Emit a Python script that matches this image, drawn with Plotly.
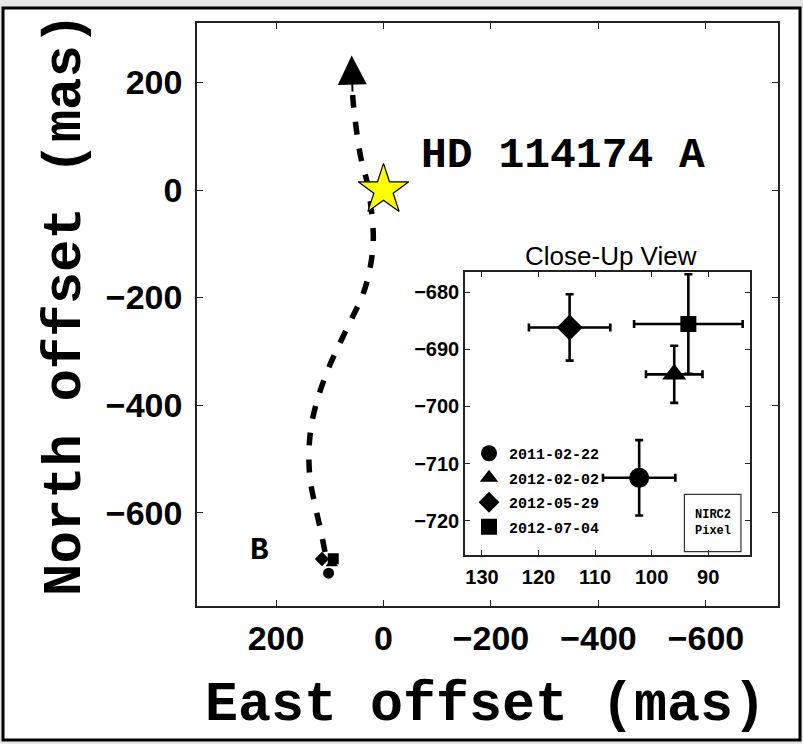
import plotly.graph_objects as go

# ---------------- data ----------------
# orbital track of companion B (East, North offsets in mas)
track_east = [108.8, 116.3, 127.4, 136.7, 138.6, 133.6, 121.3, 103.8, 82.8, 60.5,
              38.7, 25.1, 19.0, 22.0, 30.1, 41.9, 49.9, 56.2, 57.7]
track_north = [-673, -635.7, -586, -536.4, -483.7, -434, -384.6, -334.9, -288.4, -241.9,
               -195.3, -145.7, -93, -43.3, 12.5, 59, 108.5, 161.3, 180.5]
arrow_tip_east, arrow_tip_north = 59.2, 250
arrow_base_east, arrow_base_north = 57.7, 180.5

# primary star
star_east, star_north = [0], [0]

# astrometry epochs
dates = ["2011-02-22", "2012-02-02", "2012-05-29", "2012-07-04"]
east = [102.2, 96.0, 114.5, 93.5]
north = [-712.5, -694.4, -686.2, -685.6]
east_err = [6.4, 5.0, 7.2, 9.6]
north_err = [6.6, 5.0, 5.8, 8.7]
symbols = ["circle", "triangle-up", "diamond", "square"]
inset_sizes = [20, 21, 20, 16]

# NIRC2 pixel scale (mas)
nirc2_pixel = 10.0
pixel_box_east = 94.2
pixel_box_north = -715.4

main_ticks = [200, 0, -200, -400, -600]
inset_xticks = [130, 120, 110, 100, 90]
inset_yticks = [-680, -690, -700, -710, -720]

W, H = 803, 744
MONO = "Liberation Mono"
SANS = "Liberation Sans"

fig = go.Figure()

# dashed track
fig.add_trace(go.Scatter(
    x=track_east, y=track_north, mode="lines",
    line=dict(color="black", width=5.5, dash="13px,14px", shape="spline"),
    showlegend=False, hoverinfo="skip", xaxis="x", yaxis="y"))

# epochs in main panel
for i in range(len(dates)):
    fig.add_trace(go.Scatter(
        x=[east[i]], y=[north[i]], mode="markers",
        marker=dict(symbol=symbols[i], size=11, color="black"),
        showlegend=False, xaxis="x", yaxis="y"))

# star
fig.add_trace(go.Scatter(
    x=star_east, y=star_north, mode="markers",
    marker=dict(symbol="star", size=38, color="#ffff00", line=dict(color="black", width=1.2)),
    showlegend=False, xaxis="x", yaxis="y"))

# inset points with error bars
for i in range(len(dates)):
    fig.add_trace(go.Scatter(
        x=[east[i]], y=[north[i]], mode="markers",
        marker=dict(symbol=symbols[i], size=inset_sizes[i], color="black"),
        error_x=dict(type="data", array=[east_err[i]], color="black", thickness=2.6, width=4),
        error_y=dict(type="data", array=[north_err[i]], color="black", thickness=2.6, width=4),
        showlegend=False, xaxis="x2", yaxis="y2"))

# legend entries
for i in range(len(dates)):
    fig.add_trace(go.Scatter(
        x=[None], y=[None], mode="markers", name=dates[i],
        marker=dict(symbol=symbols[i], size=16, color="black"),
        legendgroup=dates[i], showlegend=True, xaxis="x2", yaxis="y2"))

# pixel box
fig.add_shape(type="rect", xref="x2", yref="y2",
              x0=pixel_box_east, x1=pixel_box_east - nirc2_pixel,
              y0=pixel_box_north, y1=pixel_box_north - nirc2_pixel,
              line=dict(color="#333333", width=1.2), fillcolor="rgba(0,0,0,0)")
fig.add_annotation(xref="x2", yref="y2",
                   x=pixel_box_east - nirc2_pixel / 2, y=pixel_box_north - nirc2_pixel / 2,
                   text="NIRC2<br>Pixel", showarrow=False,
                   font=dict(family=MONO, size=12, color="black", weight="bold"))

# outer frame
fig.add_shape(type="rect", xref="paper", yref="paper",
              x0=3 / W, x1=800 / W, y0=1 - 740 / H, y1=1 - 8 / H,
              line=dict(color="black", width=3), fillcolor="white", layer="below")

# arrow head
fig.add_annotation(xref="x", yref="y", axref="x", ayref="y",
                   x=arrow_tip_east, y=arrow_tip_north,
                   ax=arrow_base_east, ay=arrow_base_north,
                   showarrow=True, arrowhead=2, arrowsize=2.9, arrowwidth=2,
                   arrowcolor="black", text="")

# labels
fig.add_annotation(xref="x", yref="y", x=-66, y=65, xanchor="left", yanchor="middle",
                   text="HD 114174 A", showarrow=False,
                   font=dict(family=MONO, size=43, color="black", weight="bold"))
fig.add_annotation(xref="x", yref="y", x=230, y=-670, xanchor="center", yanchor="middle",
                   text="B", showarrow=False,
                   font=dict(family=MONO, size=31, color="black", weight="bold"))

# axis titles
fig.add_annotation(xref="paper", yref="paper", x=485 / W, y=1 - 705 / H,
                   text="East offset (mas)", showarrow=False, xanchor="center", yanchor="middle",
                   font=dict(family=MONO, size=55, color="black", weight="bold"))
fig.add_annotation(xref="paper", yref="paper", x=65 / W, y=1 - 305 / H,
                   text="North offset (mas)", showarrow=False, textangle=-90,
                   xanchor="center", yanchor="middle",
                   font=dict(family=MONO, size=54, color="black", weight="bold"))
fig.add_annotation(xref="paper", yref="paper", x=611 / W, y=1 - 256 / H,
                   text="Close-Up View", showarrow=False, xanchor="center", yanchor="middle",
                   font=dict(family=SANS, size=26, color="black"))

axis_common = dict(showgrid=False, zeroline=False, showline=True, linecolor="#222222",
                   linewidth=1.5, mirror="ticks", ticks="inside", tickcolor="#222222",
                   tickwidth=1.2)

fig.update_layout(
    width=W, height=H,
    margin=dict(l=0, r=0, t=0, b=0),
    paper_bgcolor="#e6e6e6",
    plot_bgcolor="white",
    xaxis=dict(domain=[197 / W, 778 / W], range=[347, -734], tickvals=main_ticks,
               ticklen=6, anchor="y", ticklabelstandoff=2,
               tickfont=dict(family=SANS, size=34, color="black", weight="bold"),
               **axis_common),
    yaxis=dict(domain=[1 - 605.7 / H, 1 - 23.3 / H], range=[-773, 310], tickvals=main_ticks,
               ticklen=6, anchor="x", ticklabelstandoff=6,
               tickfont=dict(family=SANS, size=34, color="black", weight="bold"),
               **axis_common),
    xaxis2=dict(domain=[465 / W, 750 / W], range=[133, 82.6], tickvals=inset_xticks,
                ticklen=5, anchor="y2", ticklabelstandoff=3,
                tickfont=dict(family=SANS, size=20, color="black", weight="bold"),
                **axis_common),
    yaxis2=dict(domain=[1 - 555 / H, 1 - 272 / H], range=[-726, -676.5], tickvals=inset_yticks,
                ticklen=5, anchor="x2",
                tickfont=dict(family=SANS, size=20, color="black", weight="bold"),
                **axis_common),
    legend=dict(x=469 / W, y=1 - 437 / H, xanchor="left", yanchor="top",
                bgcolor="rgba(0,0,0,0)", font=dict(family=MONO, size=15, color="black", weight="bold"),
                tracegroupgap=2, itemwidth=30),
    showlegend=True,
)

fig.write_html("out.html")
